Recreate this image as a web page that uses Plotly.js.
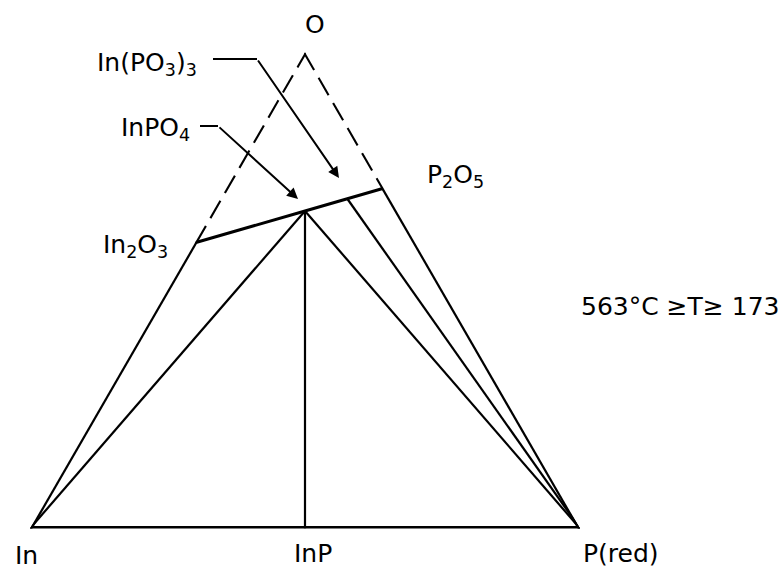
<!DOCTYPE html>
<html><head><meta charset="utf-8">
<script src="https://cdn.plot.ly/plotly-3.0.1.min.js"></script>
<style>html,body{margin:0;padding:0;background:#fff;}#chart{width:781px;height:570px;}</style>
</head><body><div id="chart"></div>
<script>
// Phases of the In–P–O system, given as atoms per formula unit
const phases  = ['In', 'InP', 'P(red)', 'In2O3', 'InPO4', 'In(PO3)3', 'P2O5', 'O'];
const atomsIn = [1, 1, 0, 2, 1, 1, 0, 0];
const atomsP  = [0, 1, 1, 0, 1, 3, 2, 0];
const atomsO  = [0, 0, 0, 3, 4, 9, 5, 1];

// Tie lines (pairs / chains of phase names)
const edgeTies   = [['In','In2O3'], ['P2O5','P(red)']];          // on the triangle sides
const baseTie    = [['In','P(red)']];                             // bottom side
const innerTies  = [['In','InPO4'], ['InPO4','InP'], ['InPO4','P(red)'], ['In(PO3)3','P(red)']];
const oxideTie   = [['In2O3','InPO4','In(PO3)3','P2O5']];
const dashedTies = [['In2O3','O'], ['O','P2O5']];                 // on the triangle sides

// Text labels
const vertexLabels = ['O', 'In', 'InP', 'P(red)'];
const phaseLabels  = ['In(PO<sub>3</sub>)<sub>3</sub>', 'InPO<sub>4</sub>', 'In<sub>2</sub>O<sub>3</sub>', 'P<sub>2</sub>O<sub>5</sub>'];
const tempLabel    = '563°C ≥T≥ 173';

function chain(segs) {
  const a = [], b = [], c = [];
  segs.forEach(seg => {
    seg.forEach(n => {
      const i = phases.indexOf(n);
      a.push(atomsO[i]); b.push(atomsIn[i]); c.push(atomsP[i]);
    });
    a.push(null); b.push(null); c.push(null);
  });
  return {a, b, c};
}

const W = 781, H = 570;
const px = (x) => x / W;
const py = (y) => 1 - y / H;

// lines lying on the triangle sides are half-clipped by the subplot, so they get double width
const lineBase = {type: 'scatterternary', mode: 'lines', hoverinfo: 'skip',
                  cliponaxis: false, connectgaps: false, showlegend: false};
const traces = [
  Object.assign({}, lineBase, chain(edgeTies),   {line: {color: '#000', width: 4.4}}),
  Object.assign({}, lineBase, chain(baseTie),    {line: {color: '#000', width: 5.2}}),
  Object.assign({}, lineBase, chain(innerTies),  {line: {color: '#000', width: 2.2}}),
  Object.assign({}, lineBase, chain(oxideTie),   {line: {color: '#000', width: 3}}),
  Object.assign({}, lineBase, chain(dashedTies), {line: {color: '#000', width: 4.2, dash: '20px,9px'}})
];

const font = {family: 'DejaVu Sans', size: 25, color: '#000'};
function label(text, x, y, xanchor) {
  return {text: text, x: px(x), y: py(y), xref: 'paper', yref: 'paper',
          xanchor: xanchor, yanchor: 'middle', showarrow: false, font: font};
}
const annotations = [
  label(vertexLabels[0], 315, 24, 'center'),
  label(vertexLabels[1], 26, 555, 'center'),
  label(vertexLabels[2], 313, 553, 'center'),
  label(vertexLabels[3], 581, 553, 'left'),
  label(phaseLabels[0], 199, 64, 'right'),
  label(phaseLabels[1], 192, 129, 'right'),
  label(phaseLabels[2], 170, 246, 'right'),
  label(phaseLabels[3], 425, 176, 'left'),
  label(tempLabel, 579, 306, 'left')
];

// leader lines: horizontal stroke drawn as a shape, slanted arrow as an annotation
const shapes = [];
function leader(kx, ky, sx, tx, ty) {
  shapes.push({type: 'line', xref: 'paper', yref: 'paper',
               x0: px(sx), y0: py(ky), x1: px(kx), y1: py(ky),
               line: {color: '#000', width: 2}});
  annotations.push({text: '', x: px(tx), y: py(ty), xref: 'paper', yref: 'paper', showarrow: true,
     arrowhead: 2, arrowsize: 1.1, arrowwidth: 2, arrowcolor: '#000',
     ax: kx - tx, ay: ky - ty, font: {size: 1}});
}
leader(257, 59, 213, 339, 178);
leader(218, 126, 200, 298, 199);

const axisOff = {showline: false, showgrid: false, showticklabels: false, ticks: '', title: {text: ''}};
const layout = {
  width: W, height: H,
  margin: {l: 0, r: 0, t: 0, b: 0},
  paper_bgcolor: '#fff',
  showlegend: false,
  ternary: {
    domain: {x: [30 / W, 580 / W], y: [1 - 528.5 / H, 1 - 52.2 / H]},
    bgcolor: '#fff',
    aaxis: axisOff, baxis: axisOff, caxis: axisOff
  },
  annotations: annotations,
  shapes: shapes
};
Plotly.newPlot('chart', traces, layout, {displayModeBar: false, staticPlot: true});
</script></body></html>
